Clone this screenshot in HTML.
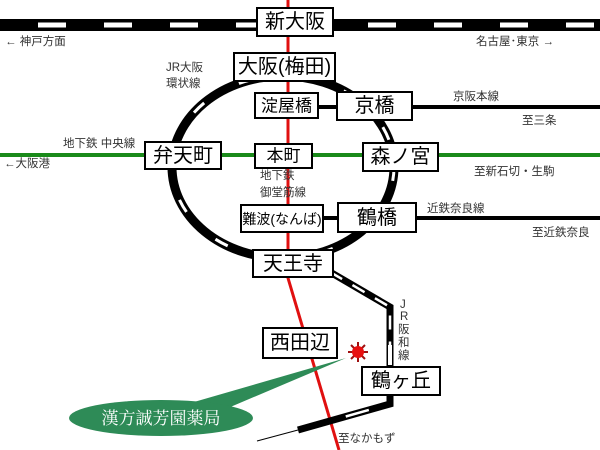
<!DOCTYPE html>
<html><head><meta charset="utf-8"><style>
html,body{margin:0;padding:0;background:#fff;}
svg{display:block;}
text{font-family:"Liberation Sans","Noto Sans CJK JP",sans-serif;}
.st{font-size:20px;fill:#000;text-anchor:middle;dominant-baseline:central;}
.sm{font-size:11.5px;fill:#333;}
</style></head><body>
<svg width="600" height="450" viewBox="0 0 600 450" xmlns="http://www.w3.org/2000/svg">
<rect width="600" height="450" fill="#fff"/>
<polyline points="288,0 288,278 339,450" fill="none" stroke="#e01010" stroke-width="3"/>
<rect x="0" y="19" width="600" height="12" fill="#000"/>
<line x1="0" y1="25" x2="600" y2="25" stroke="#fff" stroke-width="5" stroke-dasharray="28,38" stroke-dashoffset="-38"/>
<line x1="0" y1="155" x2="600" y2="155" stroke="#1a8a1a" stroke-width="4"/>
<line x1="318" y1="107" x2="600" y2="107" stroke="#000" stroke-width="4"/>
<line x1="323" y1="218" x2="600" y2="218" stroke="#000" stroke-width="4"/>
<ellipse cx="283" cy="167" rx="111" ry="91" fill="none" stroke="#000" stroke-width="9"/>
<ellipse cx="283" cy="167" rx="111" ry="91" fill="none" stroke="#fff" stroke-width="3" stroke-dasharray="14,40"/>
<polyline points="330,272 390,307 390,367" fill="none" stroke="#000" stroke-width="7"/>
<polyline points="330,272 390,307 390,367" fill="none" stroke="#fff" stroke-width="2.5" stroke-dasharray="14,12"/>
<rect x="388" y="345" width="4" height="20" fill="#fff"/>
<polyline points="390,394 390,404 298,430" fill="none" stroke="#000" stroke-width="7"/>
<polyline points="390,404 298,430" fill="none" stroke="#fff" stroke-width="2.5" stroke-dasharray="0,22,24,100"/>
<line x1="298" y1="430" x2="257" y2="441" stroke="#000" stroke-width="1"/>
<g fill="#fff" stroke="#000" stroke-width="2">
<rect x="257" y="8" width="76" height="28"/>
<rect x="234" y="53" width="101" height="28"/>
<rect x="255" y="93" width="63" height="25"/>
<rect x="337" y="92" width="75" height="28"/>
<rect x="145" y="142" width="76" height="27"/>
<rect x="255" y="144" width="57" height="24"/>
<rect x="363" y="143" width="75" height="28"/>
<rect x="241" y="205" width="82" height="27"/>
<rect x="338" y="203" width="78" height="29"/>
<rect x="253" y="250" width="80" height="27"/>
<rect x="263" y="328" width="74" height="30"/>
<rect x="362" y="367" width="78" height="28"/>
</g>
<text class="st" x="295" y="22">新大阪</text>
<text class="st" x="284.5" y="67">大阪(梅田)</text>
<text class="st" x="286.5" y="106" style="font-size:17px">淀屋橋</text>
<text class="st" x="374.5" y="106">京橋</text>
<text class="st" x="183" y="156">弁天町</text>
<text class="st" x="283.5" y="156" style="font-size:17px">本町</text>
<text class="st" x="400.5" y="157">森ノ宮</text>
<text class="st" x="282" y="219" style="font-size:14px">難波(なんば)</text>
<text class="st" x="377" y="218">鶴橋</text>
<text class="st" x="293" y="264">天王寺</text>
<text class="st" x="300" y="343">西田辺</text>
<text class="st" x="401" y="381">鶴ヶ丘</text>
<text class="sm" x="5" y="45">← 神戸方面</text>
<text class="sm" x="476" y="45">名古屋･東京 →</text>
<text class="sm" x="166" y="71">JR大阪</text>
<text class="sm" x="166" y="87">環状線</text>
<text class="sm" x="453" y="100">京阪本線</text>
<text class="sm" x="522" y="124">至三条</text>
<text class="sm" x="63" y="147">地下鉄 中央線</text>
<text class="sm" x="4" y="167">←大阪港</text>
<text class="sm" x="474" y="175">至新石切・生駒</text>
<text class="sm" x="260" y="179">地下鉄</text>
<text class="sm" x="260" y="196">御堂筋線</text>
<text class="sm" x="427" y="212">近鉄奈良線</text>
<text class="sm" x="532" y="236">至近鉄奈良</text>
<text class="sm" x="338" y="442">至なかもず</text>
<g class="sm" font-size="11" fill="#333">
<text x="400" y="308">J</text>
<text x="400" y="320">R</text>
<text x="398" y="333">阪</text>
<text x="398" y="346">和</text>
<text x="398" y="359">線</text>
</g>
<g transform="translate(358,352)">
<g stroke="#a01010" stroke-width="2">
<line x1="-10" y1="0" x2="10" y2="0"/><line x1="0" y1="-10" x2="0" y2="10"/>
<line x1="-7" y1="-7" x2="7" y2="7"/><line x1="-7" y1="7" x2="7" y2="-7"/>
</g>
<circle r="6" fill="#e81010"/>
</g>
<path d="M194,402 L346,358 L228,408 Z" fill="#2e8b57"/>
<ellipse cx="161" cy="418" rx="92" ry="18" fill="#2e8b57"/>
<text x="161" y="424" text-anchor="middle" fill="#fff" style="font-family:'Liberation Serif','Noto Serif CJK SC',serif;font-size:17px">漢方誠芳園薬局</text>
</svg>
</body></html>
